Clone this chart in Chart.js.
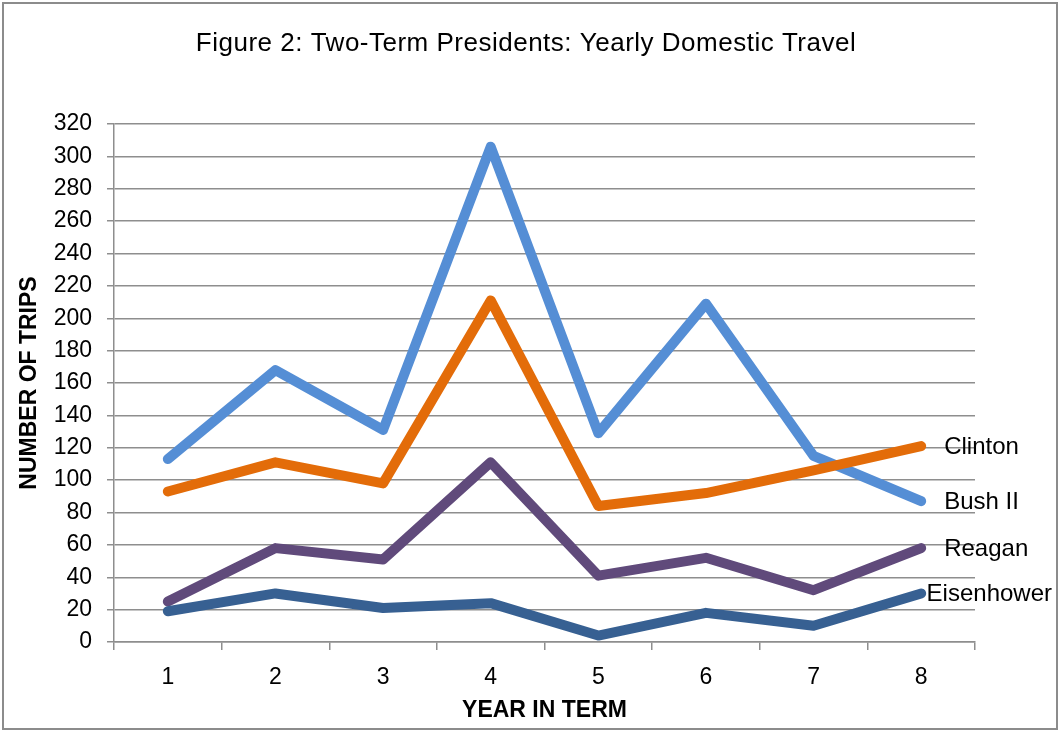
<!DOCTYPE html>
<html>
<head>
<meta charset="utf-8">
<script src="https://cdn.jsdelivr.net/npm/chart.js@4.4.0/dist/chart.umd.min.js"></script>
<style>
  html, body { margin: 0; padding: 0; background: #fff; }
  #wrap { width: 1060px; height: 732px; }
</style>
</head>
<body>
<div id="wrap"><canvas id="chart"></canvas></div>
<script>
const years = ['1', '2', '3', '4', '5', '6', '7', '8'];
const presidents = ['Eisenhower', 'Reagan', 'Clinton', 'Bush II'];
const eisenhower = [19, 30, 21, 24, 4, 18, 10, 30];
const reagan = [25, 58, 51, 111, 41, 52, 32, 58];
const clinton = [93, 111, 98, 211, 84, 92, 106, 121];
const bush = [113, 168, 131, 306, 129, 209, 115, 87];
const seriesColors = ['#376092', '#604a7b', '#e36c09', '#558ed5'];
const figureTitle = 'Figure 2: Two-Term Presidents: Yearly Domestic Travel';

const gridGrey = '#8e8e8e';

// white page, grey frame and the heading
const framePlugin = {
  id: 'frame',
  beforeDraw(chart) {
    const ctx = chart.ctx;
    ctx.save();
    ctx.fillStyle = '#fff';
    ctx.fillRect(0, 0, chart.width, chart.height);
    ctx.strokeStyle = '#8c8c8c';
    ctx.lineWidth = 2;
    ctx.strokeRect(3, 3, chart.width - 6, chart.height - 6);
    ctx.fillStyle = '#000';
    ctx.font = '26px "Liberation Sans", Arial, sans-serif';
    ctx.letterSpacing = '0.5px';
    ctx.textAlign = 'center';
    ctx.textBaseline = 'middle';
    ctx.fillText(figureTitle, chart.width / 2 - 4, 44);
    ctx.restore();
  }
};

// series name written beside the last point of each line
const endLabels = {
  id: 'endLabels',
  afterDatasetsDraw(chart) {
    const ctx = chart.ctx;
    ctx.save();
    ctx.font = '24px "Liberation Sans", Arial, sans-serif';
    ctx.fillStyle = '#000';
    ctx.textBaseline = 'middle';
    ctx.textAlign = 'left';
    chart.data.datasets.forEach((ds, i) => {
      const meta = chart.getDatasetMeta(i);
      const pt = meta.data[meta.data.length - 1];
      const w = ctx.measureText(ds.label).width;
      let x = pt.x + 23;
      if (x + w > chart.width - 8) x = chart.width - 8 - w;
      ctx.fillText(ds.label, x, pt.y + 1);
    });
    ctx.restore();
  }
};

const values = [eisenhower, reagan, clinton, bush];

new Chart(document.getElementById('chart'), {
  type: 'line',
  data: {
    labels: years,
    datasets: presidents.map((name, i) => ({
      label: name,
      data: values[i],
      borderColor: seriesColors[i],
      backgroundColor: seriesColors[i],
      borderWidth: 10,
      borderCapStyle: 'round',
      borderJoinStyle: 'round',
      pointRadius: 0,
      tension: 0
    }))
  },
  options: {
    responsive: true,
    maintainAspectRatio: false,
    animation: false,
    layout: { padding: { left: 0, right: 85, top: 124, bottom: 8 } },
    plugins: {
      legend: { display: false },
      tooltip: { enabled: false },
      title: { display: false }
    },
    scales: {
      x: {
        offset: true,
        grid: {
          offset: true,
          drawOnChartArea: false,
          drawTicks: true,
          tickLength: 8,
          color: gridGrey,
          lineWidth: 1.5
        },
        border: { color: gridGrey, width: 1.5 },
        ticks: {
          color: '#000',
          padding: 14,
          font: { family: '"Liberation Sans", Arial, sans-serif', size: 23 }
        },
        title: {
          display: true,
          text: 'YEAR IN TERM',
          color: '#000',
          font: { family: '"Liberation Sans", Arial, sans-serif', size: 23, weight: 'bold' },
          padding: { top: 0, bottom: 0 }
        },
        afterFit(scale) { scale.height = 82; }
      },
      y: {
        min: 0,
        max: 320,
        ticks: {
          stepSize: 20,
          color: '#000',
          padding: 15,
          font: { family: '"Liberation Sans", Arial, sans-serif', size: 23 }
        },
        grid: {
          color: gridGrey,
          lineWidth: 1.5,
          tickLength: 7
        },
        border: { color: gridGrey, width: 1.5 },
        title: {
          display: true,
          text: 'NUMBER OF TRIPS',
          color: '#000',
          font: { family: '"Liberation Sans", Arial, sans-serif', size: 23, weight: 'bold' },
          padding: { top: 16, bottom: 0 }
        },
        afterFit(scale) { scale.width = 114; }
      }
    }
  },
  plugins: [framePlugin, endLabels]
});
</script>
</body>
</html>
